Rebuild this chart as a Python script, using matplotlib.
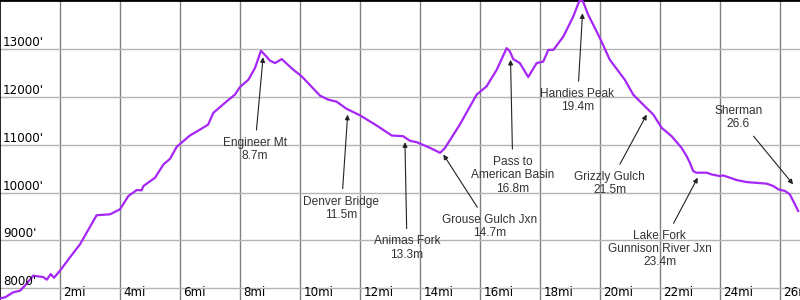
import matplotlib
matplotlib.use('Agg')

import matplotlib.pyplot as plt

# elevation profile
miles = [0.0, 0.17, 0.43, 0.66, 0.82, 1.1, 1.43, 1.55, 1.68, 1.79, 1.99, 2.32, 2.66,
         3.21, 3.66, 3.99, 4.27, 4.55, 4.71, 4.77, 5.16, 5.44, 5.66, 5.88, 6.32, 6.66,
         6.93, 7.1, 7.55, 7.82, 7.99, 8.27, 8.49, 8.69, 8.85, 8.99, 9.16, 9.38, 9.77,
         10.05, 10.66, 10.93, 11.21, 11.55, 11.99, 12.55, 13.05, 13.43, 13.66, 13.88,
         14.32, 14.66, 14.82, 15.32, 15.66, 15.88, 16.21, 16.55, 16.88, 16.99, 17.1,
         17.32, 17.6, 17.88, 18.1, 18.27, 18.44, 18.77, 19.1, 19.32, 19.43, 19.6, 19.77,
         19.99, 20.32, 20.82, 21.1, 21.49, 21.77, 22.05, 22.38, 22.71, 22.88, 22.99,
         23.1, 23.21, 23.55, 23.71, 23.99, 24.1, 24.55, 24.88, 25.55, 25.77, 25.94,
         26.16, 26.32, 26.49, 26.6]
elev = [7790, 7815, 7917, 7951, 8055, 8264, 8236, 8180, 8298, 8222, 8368, 8646, 8923,
        9527, 9548, 9652, 9930, 10055, 10048, 10138, 10313, 10590, 10708, 10958, 11194, 11319,
        11423, 11667, 11910, 12048, 12208, 12360, 12604, 12965, 12860, 12760, 12708, 12792, 12569,
        12430, 12027, 11944, 11902, 11750, 11617, 11402, 11194, 11180, 11083, 11055,
        10938, 10833, 10930, 11423, 11804, 12048, 12221, 12569, 13021, 12950, 12792,
        12708, 12417, 12708, 12740, 12985, 12985, 13263, 13680, 14035, 13992, 13714, 13506,
        13229, 12777, 12360, 12048, 11804, 11631, 11354, 11180, 10938, 10763, 10625,
        10450, 10417, 10417, 10381, 10346, 10360, 10263, 10221, 10188, 10138, 10069,
        10034, 9965, 9757, 9617]

x_ticks = [2, 4, 6, 8, 10, 12, 14, 16, 18, 20, 22, 24, 26]
x_labels = ['%dmi' % t for t in x_ticks]
y_ticks = [8000, 9000, 10000, 11000, 12000, 13000]
y_labels = ["%d'" % t for t in y_ticks]

# label, arrow tip (mi, ft), text centre (mi, ft)
notes = [
    ('Engineer Mt\n8.7m', (8.76, 12830), (8.48, 10900)),
    ('Denver Bridge\n11.5m', (11.58, 11631), (11.37, 9673)),
    ('Animas Fork\n13.3m', (13.49, 11055), (13.56, 8840)),
    ('Grouse Gulch Jxn\n14.7m', (14.77, 10798), (16.31, 9298)),
    ('Pass to\nAmerican Basin\n16.8m', (17.01, 12777), (17.09, 10361)),
    ('Handies Peak\n19.4m', (19.41, 13750), (19.24, 11920)),
    ('Grizzly Gulch\n21.5m', (21.55, 11631), (20.31, 10194)),
    ('Lake Fork\nGunnison River Jxn\n23.4m', (23.25, 10313), (21.99, 8820)),
    ('Sherman\n26.6', (26.43, 10174), (24.6, 11570)),
]


def main():
    fig = plt.figure(figsize=(8, 3), dpi=100)
    ax = fig.add_axes([0, 0, 1, 1])

    ax.set_xlim(-0.01, 26.66)
    ax.set_ylim(7756, 14027)

    for t in x_ticks:
        ax.axvline(t, color='#808080', lw=1.0, zorder=1)
    for t in y_ticks:
        ax.axhline(t, color='#b4b4b4', lw=1.0, zorder=1)

    ax.plot(miles, elev, color='#a526f5', lw=1.6, zorder=3, solid_joinstyle='round')

    for t, lab in zip(x_ticks, x_labels):
        ax.annotate(lab, xy=(t, 0), xycoords=('data', 'axes fraction'),
                    xytext=(3, 4), textcoords='offset pixels',
                    fontsize=8.6, family='DejaVu Sans', color='black',
                    ha='left', va='baseline', annotation_clip=False)
    for t, lab in zip(y_ticks, y_labels):
        ax.annotate(lab, xy=(0, t), xycoords=('axes fraction', 'data'),
                    xytext=(3, 3), textcoords='offset pixels',
                    fontsize=8.6, family='DejaVu Sans', color='black',
                    ha='left', va='baseline')

    for label, tip, pos in notes:
        ax.annotate(label, xy=tip, xytext=pos, ha='center', va='center',
                    fontsize=8.6, family='Liberation Sans', color='#333333',
                    linespacing=1.15, zorder=4,
                    arrowprops=dict(arrowstyle='-|>', color='#222222', lw=0.8,
                                    mutation_scale=7, shrinkA=3, shrinkB=0))

    ax.set_xticks([])
    ax.set_yticks([])
    for side in ('bottom', 'right'):
        ax.spines[side].set_visible(False)
    ax.spines['top'].set_linewidth(2.0)
    ax.spines['left'].set_linewidth(1.2)

    fig.savefig('out.png', dpi=100)


if __name__ == '__main__':
    main()
